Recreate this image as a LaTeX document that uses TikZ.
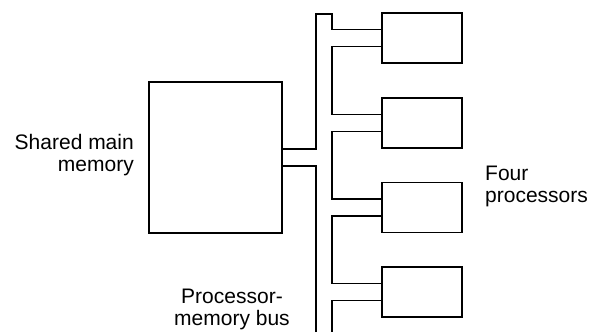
\documentclass[tikz,border=0pt]{standalone}
\usepackage{fontspec}
\setmainfont{Liberation Sans}
\usetikzlibrary{positioning, calc}
\tikzset{
  membox/.style={rectangle, draw=black, line width=1.6pt, minimum width=133pt, minimum height=151pt, inner sep=0pt},
  procbox/.style={rectangle, draw=black, line width=1.6pt, minimum width=80pt, minimum height=50pt, inner sep=0pt},
  buswire/.style={draw=black, line width=1.6pt, line join=miter},
  lbl/.style={inner sep=0pt, font=\fontsize{21}{22}\selectfont}
}

\begin{document}
\begin{tikzpicture}[x=1pt, y=1pt]
    \useasboundingbox (0,0) rectangle (589,332);

    % Shared memory and the four processors
    \node[membox] (mem) at (215.5, 174.5) {};
    \node[procbox] (p1) at (422, 294) {};
    \node[procbox] (p2) at (422, 209) {};
    \node[procbox] (p3) at (422, 124.5) {};
    \node[procbox] (p4) at (422, 40) {};

    % Bus rails and attachment points
    \coordinate (busL) at (316, 0);
    \coordinate (busR) at (332, 0);
    \coordinate (busT) at (316, 318);
    \coordinate (memA) at ($(mem.east)+(0, 8.5)$);
    \coordinate (memB) at ($(mem.east)+(0, -8.5)$);
    \foreach \p in {p1, p2, p3, p4} {
        \coordinate (\p a) at ($(\p.west)+(0, 8.5)$);
        \coordinate (\p b) at ($(\p.west)+(0, -8.5)$);
    }

    % Left rail of the bus
    \draw[buswire] (busL) |- (memB);
    \draw[buswire] (memA) -| (busT) -- (busT -| busR) |- (p1a);

    % Right rail of the bus, between the processors
    \draw[buswire] (p1b) -| (busR |- p2a) -- (p2a);
    \draw[buswire] (p2b) -| (busR |- p3a) -- (p3a);
    \draw[buswire] (p3b) -| (busR |- p4a) -- (p4a);
    \draw[buswire] (p4b) -| (busR);

    % Labels
    \node[lbl, align=right, anchor=east] (memlbl) at (134, 177) {Shared main\\memory};
    \node[lbl, align=left, anchor=west] (proclbl) at (485, 146) {Four\\processors};
    \node[lbl, align=center] (buslbl) at (232, 23) {Processor-\\memory bus};
\end{tikzpicture}
\end{document}
